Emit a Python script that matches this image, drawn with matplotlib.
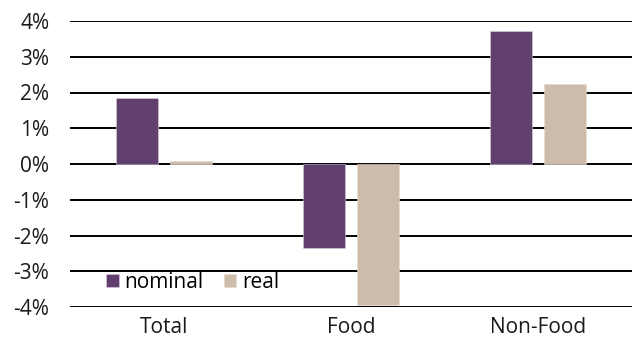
import matplotlib
matplotlib.use("Agg")
import matplotlib.pyplot as plt
import numpy as np
from matplotlib.ticker import FuncFormatter

categories = ["Total", "Food", "Non-Food"]
nominal = [1.84, -2.35, 3.72]
real = [0.08, -3.94, 2.23]
yticks = [-4, -3, -2, -1, 0, 1, 2, 3, 4]

plt.rcParams['font.family'] = ['Open Sans', 'DejaVu Sans']

fig = plt.figure(figsize=(6.32, 3.47), dpi=100)
ax = fig.add_axes([70/632, 1 - 307/347, 1 - 70/632, (307 - 21)/347])

x = np.arange(len(categories))
w = 0.225
off = 0.144
ax.bar(x - off, nominal, w, color="#614070", edgecolor="#d8cce0", linewidth=0.4, label="nominal", zorder=3)
ax.bar(x + off, real, w, color="#cdbcaa", edgecolor="#e6dccf", linewidth=0.4, label="real", zorder=3)

ax.set_xlim(-0.5, 2.5)
ax.set_ylim(-4, 4)
ax.set_yticks(yticks)
ax.yaxis.set_major_formatter(FuncFormatter(lambda v, p: f"{int(round(v))}%"))
ax.set_xticks(x)
ax.set_xticklabels(categories)
for yv in yticks:
    ax.axhline(yv, color="black", linewidth=1.4, zorder=1)
for s in ax.spines.values():
    s.set_visible(False)
ax.tick_params(axis='both', length=0, labelsize=15, colors="#1a1a1a")
ax.tick_params(axis='y', pad=15)
ax.tick_params(axis='x', pad=7)

leg = fig.legend(loc="center left", bbox_to_anchor=(106/632, 1 - 282/347), ncol=2, frameon=False,
                 fontsize=15, handlelength=0.6, handleheight=0.6, handletextpad=0.3,
                 columnspacing=0.95, borderaxespad=0, borderpad=0)

fig.savefig("out.png", dpi=100)
